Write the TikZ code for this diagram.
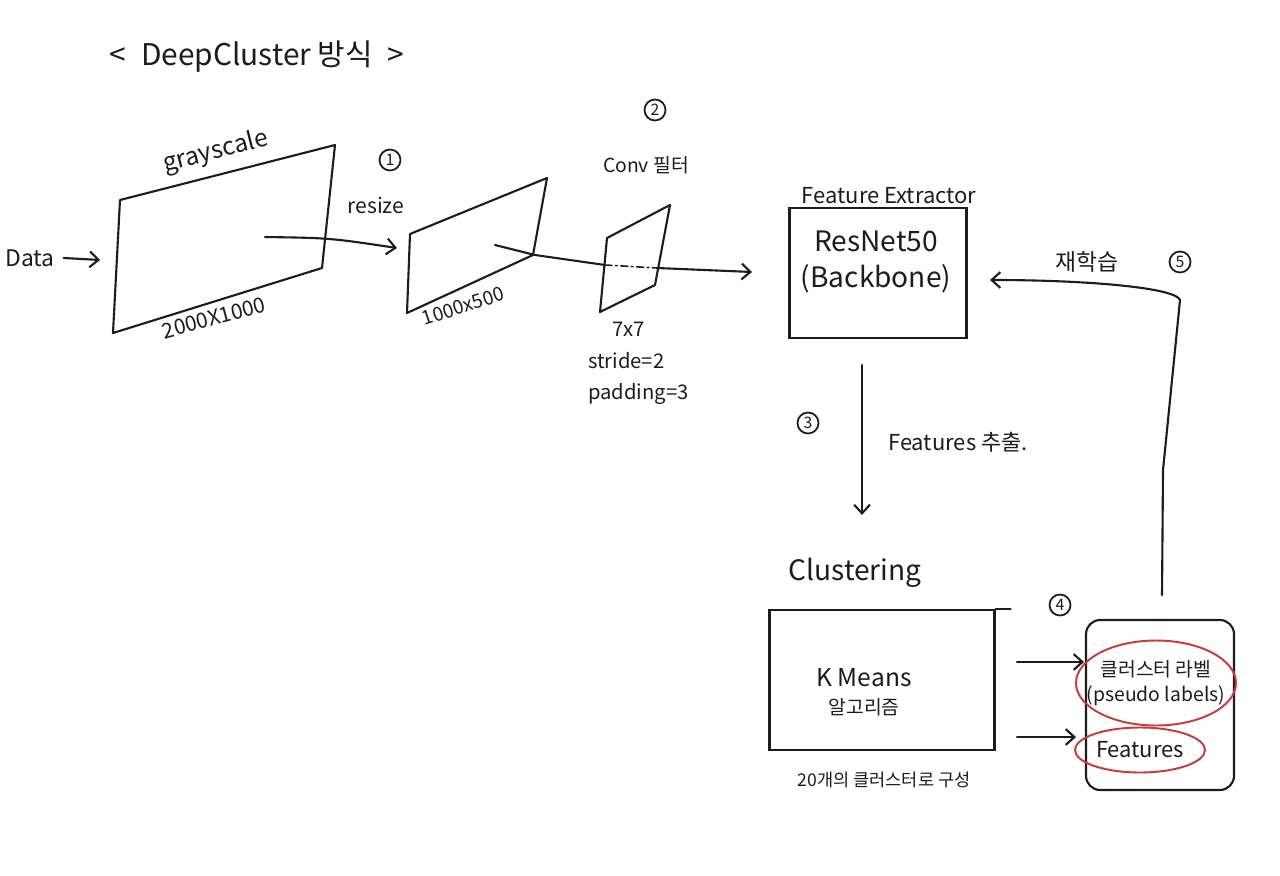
\documentclass[tikz,border=0pt]{standalone}
\usepackage{fontspec}
\setmainfont{Noto Sans CJK KR}
\usetikzlibrary{arrows.meta,positioning,calc,shapes.geometric}
\definecolor{dcink}{HTML}{1C1C1C}
\definecolor{dcred}{HTML}{C83A3A}

\begin{document}
\begin{tikzpicture}[
  x=0.02cm, y=-0.02cm,
  ink/.style={draw=dcink, line width=1.2pt, line join=round, line cap=round},
  arr/.style={ink, -{Straight Barb[length=5pt,width=9pt]}},
  lbl/.style={font=\fontsize{12}{14}\selectfont, text=dcink, inner sep=1pt, align=center},
  lblbig/.style={font=\fontsize{15}{19}\selectfont, text=dcink, inner sep=1pt, align=center},
  num/.style={circle, draw=dcink, line width=1pt, inner sep=0pt, minimum size=0.42cm,
              font=\fontsize{9}{9}\selectfont, text=dcink},
  box/.style={draw=dcink, line width=1.2pt},
  ring/.style={ellipse, draw=dcred, line width=1.1pt, inner sep=0pt},
]
\useasboundingbox (0,0) rectangle (1280,875);

%% Title
\node[font=\fontsize{17}{20}\selectfont, text=dcink] (title) at (257,57) {<\enspace DeepCluster 방식\enspace >};

%% Input image
\node[lbl, font=\fontsize{13}{15}\selectfont] (data) at (30,258) {Data};
\coordinate (dataend) at (100,260);
\draw[arr] (data.east) ++(4pt,0) -- (dataend);
\draw[ink] (120,200) -- (335,145) -- (322,268) -- (113,333) -- cycle;
\node[lbl, font=\fontsize{14}{16}\selectfont, rotate=14] (gray) at (216,152) {grayscale};
\node[lbl, rotate=15] (size1) at (214,318) {2000X1000};

%% Resize
\node[num] (n1) at (390,160) {1};
\node[lbl] (resize) at (376,205) {resize};
\coordinate (r1) at (265,237);
\coordinate (r2) at (397,248);
\draw[arr] (r1) .. controls (330,238) .. (r2);
\draw[ink] (410,234) -- (547,178) -- (533,255) -- (407,313) -- cycle;
\node[lbl, font=\fontsize{11}{13}\selectfont, rotate=18] (size2) at (463,306) {1000x500};

%% Conv filter
\node[num] (n2) at (655,110) {2};
\node[lbl, font=\fontsize{11}{13}\selectfont] (conv) at (646,165) {Conv 필터};
\draw[ink] (607,238) -- (670,205) -- (655,285) -- (600,312) -- cycle;
\node[lbl, font=\fontsize{11.5}{18}\selectfont, align=left, anchor=north west] (convset) at (586,320)
  {\hspace*{1.2em}7x7\\stride=2\\padding=3};
\coordinate (c1) at (495,245);
\coordinate (c2) at (605,265);
\coordinate (c3) at (657,268);
\coordinate (c4) at (752,272);
\draw[ink] (c1) -- (535,255) -- (c2);
\draw[ink, line width=0.9pt, dash pattern=on 4pt off 2pt on 1pt off 2pt] (c2) -- (c3);
\draw[arr] (c3) -- (c4);

%% Feature extractor
\node[box, minimum width=3.54cm, minimum height=2.6cm] (fe) at (878,273) {};
\node[lbl, font=\fontsize{12.5}{14}\selectfont, anchor=south] (fetitle) at (889,206) {Feature Extractor};
\node[lblbig, font=\fontsize{16}{21}\selectfont] (resnet) at (876,262) {ResNet50\\(Backbone)};

%% Feature extraction
\coordinate (f1) at (862,365);
\coordinate (f2) at (862,515);
\draw[arr] (f1) -- (f2);
\node[num] (n3) at (808,423) {3};
\node[lbl, font=\fontsize{12.5}{15}\selectfont] (feat) at (958,442) {Features 추출.};

%% Clustering
\node[lblbig, font=\fontsize{16}{19}\selectfont] (cltitle) at (855,573) {Clustering};
\node[box, minimum width=4.5cm, minimum height=2.8cm] (km) at (882,680) {};
\draw[ink] (km.north east) -- ++(15,0);
\node[lblbig, font=\fontsize{14}{16}\selectfont] (kmtext) at (864,692) {K Means\\{\fontsize{11}{13}\selectfont 알고리즘}};
\node[lbl, font=\fontsize{10}{12}\selectfont] (k20) at (884,780) {20개의 클러스터로 구성};
\node[num] (n4) at (1060,605) {4};

%% Outputs
\node[box, rounded corners=8pt, minimum width=2.96cm, minimum height=3.4cm] (out) at (1160,705) {};
\node[ring, minimum width=3.2cm, minimum height=1.7cm] (ring1) at (1156,683) {};
\node[lbl, font=\fontsize{11}{14}\selectfont] (plabel) at (ring1) {클러스터 라벨\\(pseudo labels)};
\node[ring, minimum width=2.6cm, minimum height=0.9cm, font=\fontsize{12.5}{14}\selectfont, text=dcink] (ring2) at (1140,750) {Features};
\coordinate (o1) at (1017,662);
\coordinate (o2) at (1084,662);
\coordinate (o3) at (1017,737);
\coordinate (o4) at (1076,737);
\draw[arr] (o1) -- (o2);
\draw[arr] (o3) -- (o4);

%% Retraining loop
\coordinate (fb1) at (1162,595);
\coordinate (fb2) at (990,280);
\draw[arr] (fb1) -- (1163,470) -- (1180,300) .. controls (1176,288) and (1090,280) .. (fb2);
\node[lbl, font=\fontsize{13}{15}\selectfont] (retrain) at (1087,262) {재학습};
\node[num] (n5) at (1180,262) {5};

\end{tikzpicture}
\end{document}
